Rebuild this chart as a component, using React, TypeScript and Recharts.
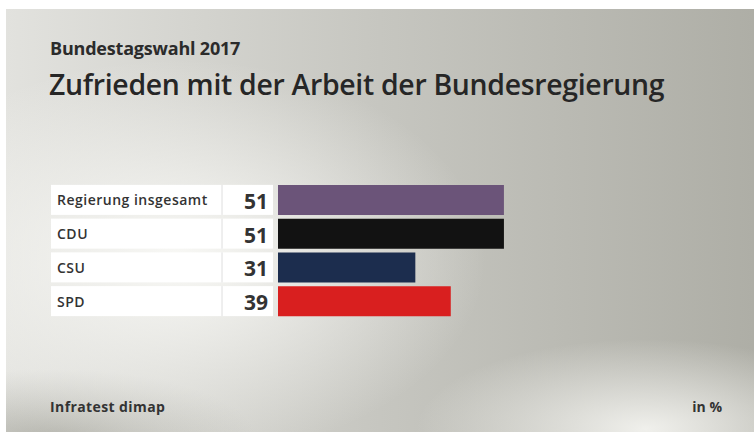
import React from 'react';
import { BarChart, Bar, XAxis, YAxis, Cell } from 'recharts';

const categories = ['Regierung insgesamt', 'CDU', 'CSU', 'SPD'];
const values = [51, 51, 31, 39];

const barColors = ['#6b5479', '#121212', '#1c2d4e', '#d91f1f'];
const font = '"Open Sans", "DejaVu Sans", sans-serif';

const data = categories.map((name, i) => ({ name, value: values[i] }));

const RowTick = (props: any) => {
  const { y, payload } = props;
  const i = payload.index;
  return (
    <g>
      <rect x={51} y={y - 15} width={222} height={30} fill="#ffffff" />
      <line x1={222} x2={222} y1={y - 15} y2={y + 15} stroke="#dedede" />
      <text x={57} y={y} dominantBaseline="central" fontFamily={font} fontSize={14} letterSpacing={0.5} fontWeight={600} fill="#333">
        {payload.value}
      </text>
      <text x={268} y={y + 1} textAnchor="end" dominantBaseline="central" fontFamily={font} fontSize={21} fontWeight={700} fill="#333">
        {values[i]}
      </text>
    </g>
  );
};

export default function App() {
  return (
    <div style={{ position: 'absolute', left: 0, top: 0, width: 754, height: 432, background: '#fff', fontFamily: font, overflow: 'hidden' }}>
      {/* grey panel with soft light spots */}
      <div
        style={{
          position: 'absolute', left: 6, top: 9, width: 748, height: 423,
          background: [
            'radial-gradient(ellipse 310px 200px at 170px 250px, rgba(248,248,245,1), rgba(248,248,245,0))',
            'radial-gradient(ellipse 230px 90px at 640px 420px, rgba(240,240,236,1), rgba(240,240,236,0))',
            'radial-gradient(ellipse 200px 70px at 50px 430px, rgba(176,176,168,0.9), rgba(176,176,168,0))',
            'linear-gradient(to right, #e2e2de 0%, #c6c6c0 50%, #aeaea6 100%)',
          ].join(', '),
        }}
      />
      <div style={{ position: 'absolute', left: 50, top: 36, fontSize: 18, fontWeight: 700, color: '#2b2b2b', letterSpacing: -0.2 }}>
        Bundestagswahl 2017
      </div>
      <div style={{ position: 'absolute', left: 49, top: 65, fontSize: 28.4, fontWeight: 600, color: '#262626', letterSpacing: -0.3 }}>
        Zufrieden mit der Arbeit der Bundesregierung
      </div>
      <div style={{ position: 'absolute', left: 0, top: 0 }}>
        <BarChart
          width={754}
          height={432}
          data={data}
          layout="vertical"
          margin={{ top: 183, right: 33, bottom: 114, left: 51 }}
        >
          <XAxis type="number" domain={[0, 100]} hide />
          <YAxis
            type="category"
            dataKey="name"
            width={227}
            axisLine={false}
            tickLine={false}
            interval={0}
            tick={<RowTick />}
          />
          <Bar dataKey="value" barSize={30} isAnimationActive={false}>
            {data.map((d, i) => (
              <Cell key={d.name} fill={barColors[i]} />
            ))}
          </Bar>
        </BarChart>
      </div>
      <div style={{ position: 'absolute', left: 50, top: 397, fontSize: 14, letterSpacing: 0.4, fontWeight: 700, color: '#333' }}>
        Infratest dimap
      </div>
      <div style={{ position: 'absolute', right: 32, top: 397, fontSize: 14, fontWeight: 700, color: '#333' }}>
        in %
      </div>
    </div>
  );
}
